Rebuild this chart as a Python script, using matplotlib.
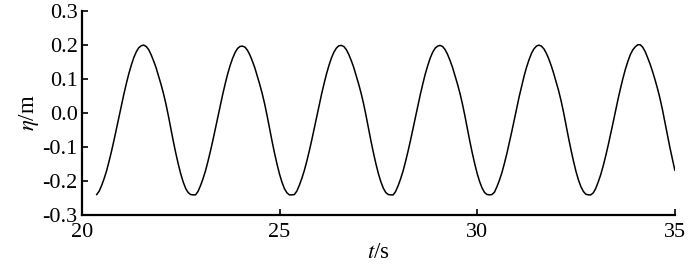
import numpy as np
import matplotlib
matplotlib.use("Agg")
import matplotlib.pyplot as plt

plt.rcParams['font.family'] = ['Liberation Serif', 'DejaVu Serif']
plt.rcParams['mathtext.fontset'] = 'stix'

# time samples (s), every 0.0625 s
t = np.linspace(20.375, 35.0, 235)

# wave elevation (m), one row of 40 per wave period
eta = [
    -0.240, -0.230, -0.213, -0.193, -0.170, -0.142, -0.112, -0.080, -0.046, -0.012,
    0.023, 0.056, 0.087, 0.116, 0.141, 0.163, 0.180, 0.192, 0.198, 0.200,
    0.196, 0.187, 0.172, 0.154, 0.134, 0.110, 0.085, 0.058, 0.027, -0.008,
    -0.046, -0.083, -0.118, -0.150, -0.179, -0.203, -0.222, -0.234, -0.240, -0.241,

    -0.241, -0.231, -0.214, -0.194, -0.171, -0.143, -0.113, -0.081, -0.047, -0.013,
    0.022, 0.055, 0.086, 0.115, 0.140, 0.161, 0.178, 0.190, 0.196, 0.197,
    0.194, 0.185, 0.171, 0.153, 0.133, 0.109, 0.084, 0.057, 0.026, -0.009,
    -0.047, -0.084, -0.119, -0.151, -0.180, -0.204, -0.223, -0.235, -0.241, -0.241,

    -0.240, -0.230, -0.213, -0.193, -0.170, -0.143, -0.113, -0.081, -0.047, -0.013,
    0.022, 0.055, 0.086, 0.115, 0.140, 0.162, 0.179, 0.191, 0.198, 0.199,
    0.196, 0.187, 0.173, 0.155, 0.135, 0.111, 0.086, 0.059, 0.028, -0.007,
    -0.045, -0.082, -0.117, -0.149, -0.178, -0.202, -0.221, -0.234, -0.240, -0.241,

    -0.241, -0.231, -0.214, -0.194, -0.171, -0.143, -0.113, -0.081, -0.047, -0.013,
    0.022, 0.055, 0.086, 0.115, 0.140, 0.162, 0.179, 0.191, 0.197, 0.199,
    0.196, 0.187, 0.173, 0.155, 0.135, 0.111, 0.086, 0.059, 0.028, -0.007,
    -0.045, -0.082, -0.117, -0.149, -0.178, -0.202, -0.221, -0.234, -0.240, -0.241,

    -0.240, -0.233, -0.217, -0.198, -0.176, -0.149, -0.120, -0.088, -0.055, -0.021,
    0.014, 0.048, 0.079, 0.109, 0.135, 0.157, 0.176, 0.189, 0.197, 0.200,
    0.197, 0.189, 0.176, 0.159, 0.139, 0.116, 0.091, 0.065, 0.035, 0.001,
    -0.037, -0.074, -0.109, -0.142, -0.172, -0.197, -0.217, -0.231, -0.239, -0.241,

    -0.241, -0.235, -0.222, -0.203, -0.182, -0.156, -0.127, -0.096, -0.063, -0.029,
    0.006, 0.040, 0.072, 0.102, 0.129, 0.152, 0.172, 0.186, 0.195, 0.201,
    0.201, 0.194, 0.181, 0.163, 0.144, 0.122, 0.098, 0.072, 0.043, 0.010,
    -0.027, -0.065, -0.101, -0.134, -0.168,
]

xticks = [20, 25, 30, 35]
yticks = [-0.3, -0.2, -0.1, 0.0, 0.1, 0.2, 0.3]
ytick_labels = ['-0.3', '-0.2', '-0.1', '0.0', '0.1', '0.2', '0.3']

fig = plt.figure(figsize=(7, 2.65), dpi=100)
ax = fig.add_axes([0.117, 0.189, 0.847, 0.769])

ax.plot(t, eta, color='black', lw=1.1)

ax.set_xlim(20, 35)
ax.set_ylim(-0.3, 0.3)
ax.set_xticks(xticks)
ax.set_xticklabels([str(v) for v in xticks])
ax.set_yticks(yticks)
ax.set_yticklabels(ytick_labels)

for s in ['top', 'right']:
    ax.spines[s].set_visible(False)
for s in ['left', 'bottom']:
    ax.spines[s].set_linewidth(1.6)

ax.tick_params(direction='in', length=4, width=1.2, labelsize=16, pad=3)
ax.tick_params(axis='x', pad=6)

ax.set_xlabel(r'$t$/s', fontsize=16.5, labelpad=0)
ax.set_ylabel(r'$\eta$/m', fontsize=16.5, labelpad=1)

fig.savefig('out.png', dpi=100)
